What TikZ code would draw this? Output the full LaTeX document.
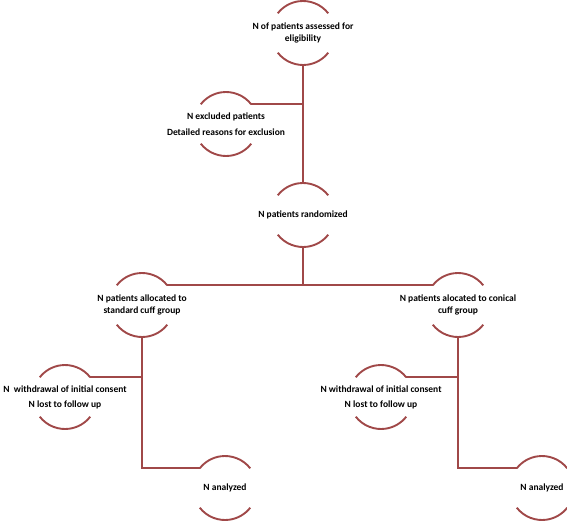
\documentclass[tikz,border=0pt]{standalone}
\usepackage{fontspec}
\setmainfont{Carlito}
\definecolor{lineRed}{RGB}{160,72,72}
\begin{document}
\begin{tikzpicture}[x=1pt,y=-1pt,
  ring/.style={circle,minimum size=64pt,inner sep=0pt,outer sep=0pt},
  txt/.style={align=center,font=\bfseries\fontsize{9.5}{12.5}\selectfont,inner sep=0pt},
  conn/.style={draw=lineRed,line width=1.9pt},
  arcs/.style={draw=lineRed,line width=1.9pt}]
\useasboundingbox (0,0) rectangle (567,522);
% circle holders
\node[ring] (top) at (303,33) {};
\node[ring] (excl) at (226,124) {};
\node[ring] (rand) at (303,215) {};
\node[ring] (allocA) at (142,305) {};
\node[ring] (allocB) at (458,305) {};
\node[ring] (wdA) at (65,397) {};
\node[ring] (wdB) at (381,397) {};
\node[ring] (anA) at (225,488) {};
\node[ring] (anB) at (542,488) {};
% arcs
\foreach \n in {top,excl,rand,allocA,allocB,wdA,wdB,anA,anB}{
  \draw[arcs] (\n.38) arc[start angle=38,end angle=142,radius=32pt];
  \draw[arcs] (\n.218) arc[start angle=218,end angle=322,radius=32pt];
}
% texts
\node[txt] (ttop) at (top) {N of patients assessed for\\eligibility};
\node[txt] (texcl) at (excl) {N excluded patients\\[3pt]Detailed reasons for exclusion};
\node[txt] (trand) at (rand) {N patients randomized};
\node[txt] (tallocA) at (allocA) {N patients allocated to\\standard cuff group};
\node[txt] (tallocB) at (allocB) {N patients alocated to conical\\cuff group};
\node[txt] (twdA) at (wdA) {N\ \ withdrawal of initial consent\\[2.5pt]N lost to follow up};
\node[txt] (twdB) at (wdB) {N withdrawal of initial consent\\[2.5pt]N lost to follow up};
\node[txt] (tanA) at (anA) {N analyzed};
\node[txt] (tanB) at (anB) {N analyzed};
% connectors
\draw[conn] (top.south) -- (rand.north);
\draw[conn] (excl.38) -- (excl.38 -| top.south);
\draw[conn] (rand.south) -- (rand.south |- allocA.38);
\draw[conn] (allocA.38) -- (allocB.142);
\draw[conn] (allocA.south) |- (anA.142);
\draw[conn] (wdA.38) -- (wdA.38 -| allocA.south);
\draw[conn] (allocB.south) |- (anB.142);
\draw[conn] (wdB.38) -- (wdB.38 -| allocB.south);
\end{tikzpicture}
\end{document}
